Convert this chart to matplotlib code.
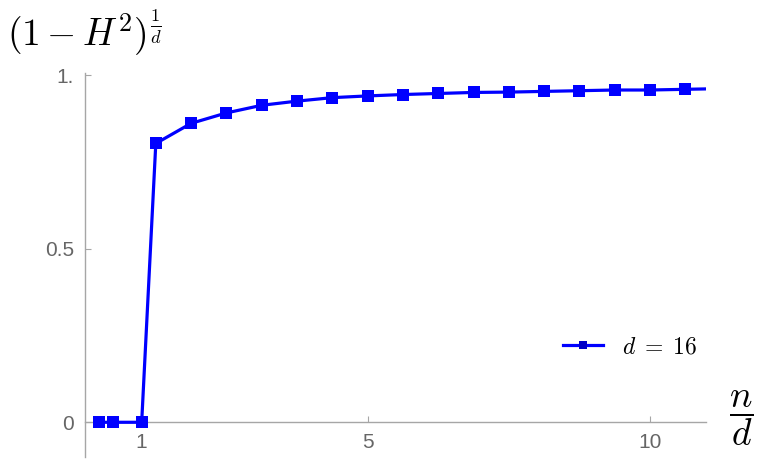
import matplotlib
matplotlib.use("Agg")
import matplotlib.pyplot as plt
from matplotlib.lines import Line2D

plt.rcParams['mathtext.fontset'] = 'cm'
plt.rcParams['font.family'] = ['Liberation Sans', 'DejaVu Sans']

# data: x = n/d, y = (1-H^2)^(1/d), d = 16
x_vals = [0.25, 0.5, 1.0, 1.25, 1.875, 2.5, 3.125, 3.75, 4.375, 5.0, 5.625,
          6.25, 6.875, 7.5, 8.125, 8.75, 9.375, 10.0, 10.625, 11.25]
y_vals = [0.0, 0.0, 0.0, 0.803, 0.861, 0.891, 0.913, 0.925, 0.935, 0.940, 0.944,
          0.947, 0.950, 0.951, 0.953, 0.955, 0.957, 0.957, 0.959, 0.961]
x_ticks = [1, 5, 10]
x_ticklabels = ["1", "5", "10"]
y_ticks = [0, 0.5, 1.0]
y_ticklabels = ["0", "0.5", "1."]
series_label = r"$d\;=\;16$"

W, H = 762, 462
fig = plt.figure(figsize=(W / 100, H / 100), dpi=100)
left, right, top, bottom = 85.2, 706.5, 73, 457
ax = fig.add_axes([left / W, 1 - bottom / H, (right - left) / W, (bottom - top) / H])

blue = (0, 0, 1)
ax.plot(x_vals, y_vals, color=blue, lw=2.3, marker='s', markersize=8.3,
        markeredgewidth=0, zorder=3)

ax.set_xlim(0, 11)
ax.set_ylim(-0.1, 1.006)

gray = '#a6a6a6'
for s in ['top', 'right']:
    ax.spines[s].set_visible(False)
ax.spines['bottom'].set_position(('data', 0))
ax.spines['left'].set_color(gray)
ax.spines['bottom'].set_color(gray)
ax.spines['left'].set_linewidth(1.0)
ax.spines['bottom'].set_linewidth(1.0)

ax.set_xticks(x_ticks)
ax.set_xticklabels(x_ticklabels)
ax.set_yticks(y_ticks)
ax.set_yticklabels(y_ticklabels)
ax.tick_params(axis='x', direction='in', length=4, width=0.8, color=gray,
               labelcolor='#666666', labelsize=15, pad=8)
ax.tick_params(axis='y', direction='in', length=4, width=0.8, color=gray,
               labelcolor='#666666', labelsize=15, pad=8)

# axis labels
fig.text(84 / W, 1 - 33 / H, r"$(1-H^2)^{\frac{1}{d}}$", fontsize=27,
         ha='center', va='center')
fig.text(741 / W, 1 - 418 / H, r"$\dfrac{n}{d}$", fontsize=27,
         ha='center', va='center')

# legend
handle = Line2D([], [], color=blue, lw=2.3, marker='s', markersize=5.5,
                markerfacecolor='#0000c8', markeredgewidth=0)
leg = fig.legend([handle], [series_label], loc='center left',
                 bbox_to_anchor=(551 / W, 1 - 347 / H), frameon=False,
                 fontsize=17, borderpad=0, handlelength=1.7, handletextpad=0.8)

fig.savefig("out.png", dpi=100)
